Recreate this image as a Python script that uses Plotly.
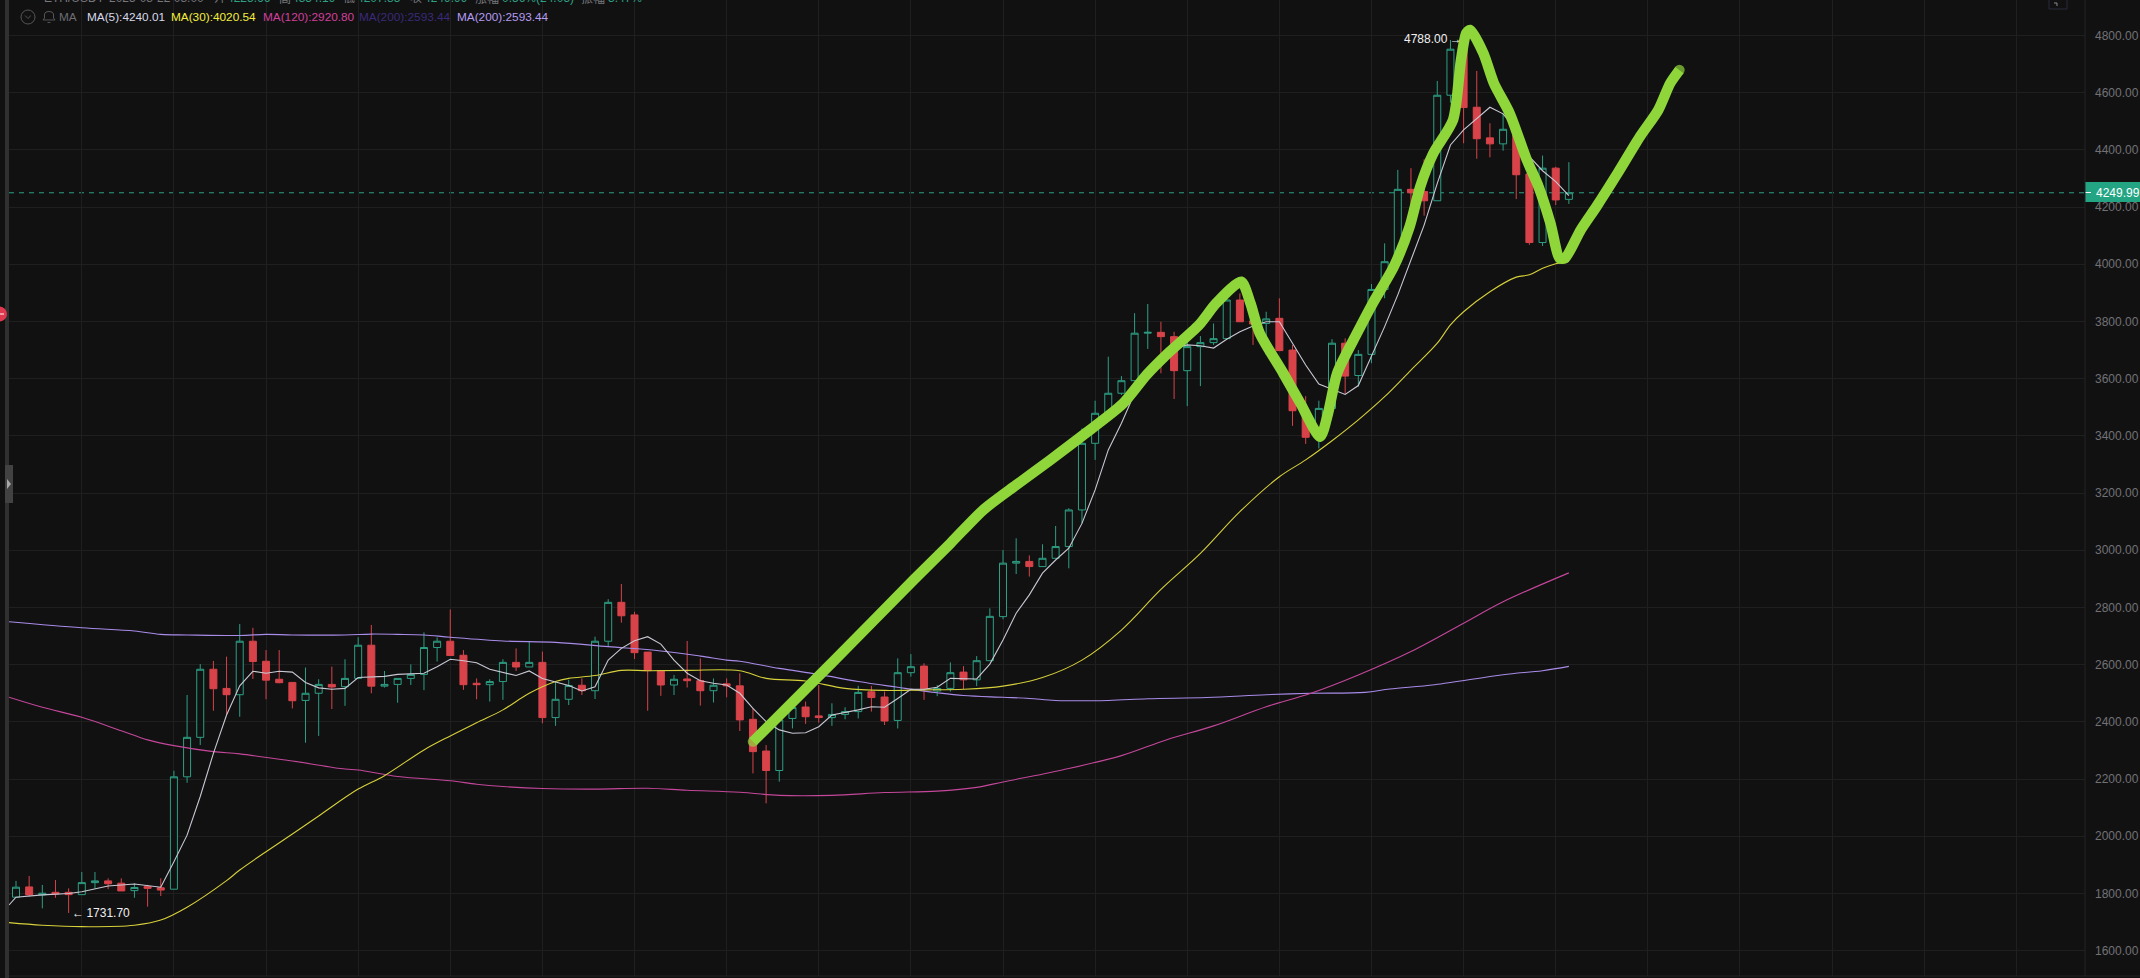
import plotly.graph_objects as go

# candles
candle_open = [1787, 1823, 1795, 1804, 1804, 1796, 1838, 1844, 1836, 1810, 1824, 1820, 1815, 2208, 2346, 2584, 2517, 2495, 2682, 2612,
               2549, 2538, 2475, 2500, 2531, 2523, 2552, 2668, 2525, 2531, 2552, 2566, 2660, 2682, 2633, 2535, 2530, 2541, 2608, 2592,
               2608, 2415, 2479, 2528, 2509, 2682, 2818, 2774, 2644, 2579, 2529, 2550, 2544, 2509, 2533, 2526, 2409, 2298, 2230, 2412,
               2452, 2421, 2415, 2426, 2436, 2505, 2487, 2405, 2572, 2595, 2508, 2517, 2574, 2547, 2614, 2768, 2955, 2961, 2943, 2972,
               3013, 3141, 3374, 3479, 3549, 3593, 3759, 3762, 3747, 3628, 3712, 3726, 3740, 3875, 3802, 3793, 3811, 3700, 3490, 3395,
               3496, 3724, 3611, 3685, 3912, 4009, 4262, 4254, 4222, 4591, 4752, 4549, 4442, 4421, 4452, 4316, 4076, 4336, 4227]
candle_high = [1844, 1861, 1830, 1847, 1818, 1875, 1875, 1853, 1853, 1835, 1830, 1853, 2229, 2494, 2602, 2613, 2628, 2742, 2729, 2651,
               2651, 2538, 2590, 2549, 2593, 2619, 2696, 2739, 2578, 2552, 2601, 2713, 2695, 2793, 2651, 2552, 2549, 2619, 2657, 2683,
               2646, 2541, 2547, 2552, 2698, 2829, 2882, 2785, 2644, 2579, 2564, 2683, 2622, 2552, 2552, 2570, 2447, 2319, 2407, 2450,
               2471, 2529, 2465, 2451, 2526, 2526, 2506, 2622, 2637, 2605, 2529, 2608, 2595, 2630, 2797, 3001, 3042, 2982, 3021, 3085,
               3147, 3426, 3523, 3677, 3609, 3829, 3861, 3799, 3764, 3770, 3749, 3793, 3890, 3898, 3830, 3834, 3881, 3718, 3539, 3523,
               3738, 3741, 3700, 3931, 4073, 4330, 4336, 4367, 4641, 4784, 4788, 4676, 4493, 4528, 4493, 4335, 4380, 4341, 4357]
candle_low = [1786, 1789, 1748, 1785, 1732, 1796, 1817, 1815, 1809, 1785, 1754, 1791, 1815, 2187, 2319, 2439, 2424, 2418, 2550, 2479,
              2535, 2447, 2327, 2351, 2445, 2456, 2552, 2500, 2520, 2467, 2529, 2511, 2611, 2632, 2512, 2479, 2471, 2477, 2578, 2592,
              2395, 2386, 2459, 2494, 2480, 2663, 2747, 2620, 2439, 2491, 2494, 2520, 2457, 2468, 2486, 2368, 2220, 2115, 2191, 2377,
              2393, 2397, 2386, 2409, 2412, 2436, 2389, 2377, 2558, 2477, 2490, 2506, 2514, 2525, 2614, 2759, 2917, 2908, 2943, 2972,
              2937, 3094, 3316, 3479, 3543, 3593, 3704, 3619, 3529, 3504, 3574, 3718, 3740, 3799, 3718, 3683, 3698, 3435, 3372, 3356,
              3496, 3545, 3572, 3654, 3881, 4009, 4178, 4170, 4222, 4565, 4423, 4369, 4374, 4397, 4228, 4068, 4064, 4207, 4211]
candle_close = [1822, 1795, 1801, 1798, 1796, 1838, 1844, 1834, 1809, 1821, 1818, 1812, 2208, 2346, 2584, 2516, 2495, 2682, 2611, 2546,
                2537, 2474, 2500, 2531, 2522, 2552, 2668, 2525, 2531, 2552, 2566, 2660, 2682, 2632, 2530, 2530, 2541, 2608, 2592, 2608,
                2415, 2479, 2527, 2509, 2682, 2818, 2771, 2642, 2579, 2529, 2549, 2544, 2509, 2528, 2526, 2407, 2296, 2230, 2407, 2450,
                2418, 2415, 2426, 2436, 2503, 2485, 2403, 2572, 2593, 2516, 2517, 2572, 2547, 2614, 2769, 2955, 2961, 2943, 2972, 3013,
                3141, 3374, 3479, 3549, 3593, 3759, 3762, 3747, 3628, 3712, 3726, 3740, 3875, 3799, 3791, 3809, 3698, 3488, 3395, 3496,
                3724, 3609, 3685, 3912, 4009, 4262, 4250, 4222, 4591, 4752, 4548, 4439, 4421, 4472, 4313, 4076, 4336, 4225, 4250]

ma5_x = [-0.53, 0, 2, 4, 5, 7, 9, 11, 12, 13, 14, 15, 16, 17, 18, 19, 20, 21, 22, 23, 24, 25, 26, 28, 29, 31, 32, 33, 34, 35, 36, 37,
         38, 39, 40, 42, 43, 44, 45, 46, 47, 48, 49, 50, 51, 52, 53, 54, 55, 56, 57, 58, 59, 60, 61, 62, 63, 64, 65, 66, 67, 68, 69,
         70, 71, 72, 73, 74, 75, 76, 77, 78, 79, 80, 81, 82, 83, 84, 85, 87, 88, 89, 90, 91, 92, 93, 94, 95, 96, 97, 98, 99, 100, 101,
         102, 103, 104, 105, 106, 107, 108, 109, 110, 111, 112, 113, 114, 115, 116, 117, 118]
ma5_y = [1760, 1787, 1795, 1800, 1806, 1826, 1833, 1822, 1911, 2004, 2139, 2290, 2424, 2526, 2577, 2570, 2577, 2574, 2538, 2519, 2514,
         2517, 2555, 2559, 2566, 2570, 2593, 2619, 2614, 2607, 2584, 2572, 2562, 2578, 2552, 2527, 2508, 2523, 2616, 2657, 2684, 2698,
         2672, 2616, 2570, 2544, 2535, 2529, 2500, 2447, 2401, 2372, 2360, 2362, 2383, 2424, 2432, 2442, 2453, 2451, 2482, 2514, 2514,
         2521, 2552, 2550, 2550, 2602, 2686, 2780, 2844, 2920, 2966, 3007, 3094, 3211, 3351, 3444, 3549, 3665, 3706, 3718, 3715, 3707,
         3738, 3764, 3784, 3799, 3799, 3724, 3648, 3581, 3563, 3545, 3576, 3677, 3782, 3893, 4015, 4137, 4283, 4417, 4470, 4510, 4549,
         4526, 4470, 4376, 4327, 4289, 4240]

ma30_x = [-0.53, 2, 5, 9, 11, 13, 16, 17, 19, 21, 23, 26, 28, 31, 33, 35, 37, 39, 41, 42, 44, 46, 48, 51, 55, 57, 60, 63, 66, 69, 72,
          75, 78, 81, 84, 87, 90, 93, 96, 98, 100, 102, 104, 106, 108, 109, 110, 112, 114, 115, 116, 117, 118]
ma30_y = [1698, 1689, 1684, 1689, 1707, 1752, 1845, 1882, 1946, 2008, 2071, 2165, 2212, 2302, 2351, 2397, 2442, 2500, 2541, 2552, 2562,
          2580, 2579, 2580, 2579, 2552, 2543, 2517, 2510, 2512, 2514, 2525, 2555, 2616, 2721, 2863, 2989, 3135, 3257, 3316, 3383, 3456,
          3537, 3630, 3724, 3788, 3834, 3904, 3955, 3963, 3986, 4002, 4010]

ma120_x = [-0.53, 2, 5, 8, 10, 12, 15, 17, 21, 25, 26, 29, 33, 35, 37, 40, 44, 48, 51, 55, 58, 62, 66, 70, 73, 75, 79.5, 84, 87.4, 91,
           95, 98.4, 102, 106, 110, 113, 118]
ma120_y = [2486, 2451, 2416, 2369, 2337, 2317, 2296, 2288, 2263, 2235, 2232, 2209, 2194, 2182, 2174, 2167, 2165, 2168, 2161, 2154, 2143,
           2143, 2153, 2158, 2171, 2190, 2232, 2282, 2337, 2386, 2453, 2500, 2564, 2646, 2745, 2820, 2921]

ma200_x = [-0.53, 5, 9, 11, 13, 17, 19, 21, 25, 27, 29, 31, 33, 37, 41, 45, 49, 52, 54, 55, 58, 61, 64, 67, 70, 72, 75, 77, 79, 83, 86,
           90.5, 95, 98.4, 102.5, 104.4, 107.8, 113, 116, 118]
ma200_y = [2750, 2729, 2718, 2706, 2704, 2702, 2706, 2704, 2704, 2707, 2706, 2704, 2696, 2683, 2678, 2663, 2648, 2630, 2616, 2612, 2587,
           2566, 2541, 2521, 2502, 2492, 2486, 2482, 2475, 2475, 2481, 2485, 2495, 2500, 2503, 2515, 2530, 2565, 2579, 2594]

# hand drawn marker stroke on top of the chart
stroke_x = [56, 62.1, 68.2, 71, 73.5, 76, 78.6, 81.1, 84.1, 85.9, 87.4, 89.9, 91.2, 93.1, 93.8, 94.5, 96.3, 97.6, 99.1, 99.7, 100.4,
            101.9, 103.1, 104.7, 105.9, 106.7, 107.7, 109.2, 109.8, 110.2, 110.5, 111.5, 112.3, 113.5, 114.8, 115.7, 116.6, 117.3,
            117.7, 118.9, 120.1, 121.7, 123.4, 124.8, 125.7, 126.4]
stroke_y = [2331, 2611, 2896, 3024, 3141, 3228, 3316, 3403, 3512, 3613, 3683, 3788, 3864, 3939, 3864, 3759, 3619, 3514, 3397, 3479, 3620,
            3759, 3864, 3992, 4132, 4271, 4388, 4505, 4714, 4808, 4819, 4738, 4633, 4528, 4365, 4271, 4143, 4021, 4021, 4120, 4202, 4318,
            4446, 4540, 4633, 4679]

y_ticks = [1600, 1800, 2000, 2200, 2400, 2600, 2800, 3000, 3200, 3400, 3600, 3800, 4000, 4200, 4400, 4600, 4800]
x_grid = [5, 12, 19, 26, 33, 40, 47, 54, 61, 68, 75, 82, 89, 96, 103, 110, 117, 124, 131, 138, 145, 152]
last_price = 4249.99

header_labels = [("ETH/USDT", 42, "#77777c"), ("2025-08-22 08:00", 107, "#77777c"), ("开", 212, "#77777c"), ("4225.66", 225, "#2fa084"),
                 ("高", 277, "#77777c"), ("4354.19", 290, "#2fa084"), ("低", 341, "#77777c"), ("4207.85", 355, "#2fa084"),
                 ("收", 408, "#77777c"), ("4249.99", 422, "#2fa084"), ("涨幅", 473, "#77777c"), ("0.56%(24.05)", 500, "#2fa084"),
                 ("振幅", 579, "#77777c"), ("3.47%", 606, "#2fa084")]
ma_labels = [("MA", 57, "#6d6d72"), ("MA(5):4240.01", 85, "#d8d8e8"), ("MA(30):4020.54", 169, "#f2ee3c"),
             ("MA(120):2920.80", 261, "#d2409a"), ("MA(200):2593.44", 357, "#3a2a78"), ("MA(200):2593.44", 455, "#b49cf0")]

BG = "#111112"
GRID = "#1f1f20"
GREEN = "#2d9f83"
RED = "#d8434a"
STROKE = "#8fd63a"
FONT = "Liberation Sans, Arial, sans-serif"
L, R, B = 9, 2085, 976


def px(x):
    return (x - L) / (R - L)


def py(y):
    return (B - y) / B


def path(*pts, close=False):
    s = "M " + " L ".join("%.5f %.5f" % (px(x), py(y)) for x, y in pts)
    return s + (" Z" if close else "")


def paper_shape(**kw):
    return dict(xref="paper", yref="paper", layer="above", **kw)


def box(x0, y0, x1, y1, **kw):
    return paper_shape(x0=px(x0), x1=px(x1), y0=py(y0), y1=py(y1), **kw)


fig = go.Figure()
fig.add_trace(go.Candlestick(x=list(range(len(candle_open))), open=candle_open, high=candle_high, low=candle_low, close=candle_close,
                             increasing=dict(line=dict(color=GREEN, width=1), fillcolor=BG),
                             decreasing=dict(line=dict(color=RED, width=1), fillcolor=RED),
                             showlegend=False, hoverinfo="skip"))
for xs, ys, c, shape in [(ma200_x, ma200_y, "#a98be8", "spline"), (ma120_x, ma120_y, "#c4479a", "spline"),
                         (ma30_x, ma30_y, "#d6d03a", "spline"), (ma5_x, ma5_y, "#c8c8d4", "linear")]:
    fig.add_trace(go.Scatter(x=xs, y=ys, mode="lines", line=dict(color=c, width=1.1, shape=shape), showlegend=False, hoverinfo="skip"))
fig.add_trace(go.Scatter(x=stroke_x, y=stroke_y, mode="lines+markers",
                         line=dict(color=STROKE, width=10.5, shape="spline", smoothing=0.7),
                         marker=dict(color=STROKE, size=[10.5] + [0] * (len(stroke_x) - 2) + [10.5], line=dict(width=0)),
                         showlegend=False, hoverinfo="skip"))

annotations = []
for text, x, c in header_labels:
    annotations.append(dict(text=text, xref="paper", yref="paper", x=px(x), y=py(-2), xanchor="left", yanchor="middle", showarrow=False,
                            font=dict(family="Liberation Sans, Noto Sans CJK SC, sans-serif", size=12, color=c)))
for text, x, c in ma_labels:
    annotations.append(dict(text=text, xref="paper", yref="paper", x=px(x), y=py(17), xanchor="left", yanchor="middle", showarrow=False,
                            font=dict(family=FONT, size=11.8, color=c)))
annotations.append(dict(text="←\u20091731.70", x=4, y=min(candle_low), xanchor="left", yanchor="middle", xshift=1, showarrow=False,
                        font=dict(family=FONT, size=12, color="#f0f0f0")))
annotations.append(dict(text="4788.00\u2009→", x=110, y=max(candle_high), xanchor="right", yanchor="middle", xshift=0, showarrow=False,
                        font=dict(family=FONT, size=12, color="#f0f0f0")))
annotations.append(dict(text="%.2f" % last_price, xref="paper", yref="y", x=px(2094), y=last_price, xanchor="left", yanchor="middle",
                        showarrow=False, font=dict(family=FONT, size=12, color="#ffffff")))

shapes = [
    # last price line and tag
    dict(type="line", xref="paper", yref="y", x0=0, x1=1, y0=last_price, y1=last_price, layer="below",
         line=dict(color=GREEN, width=1, dash="5px,5px")),
    box(R, 182, 2140, 202, type="rect", fillcolor="#23a584", line=dict(width=0)),
    box(R, 192.5, 2091, 192.5, type="line", line=dict(color="#ffffff", width=1)),
    # right and bottom frame
    box(R, 0, R, B, type="line", line=dict(color="#242425", width=1)),
    box(L, B, 2140, B, type="line", line=dict(color="#242425", width=1)),
    # left strip
    box(5, 0, 9, 978, type="rect", fillcolor="#303031", line=dict(width=0)),
    box(5, 465, 13, 503, type="rect", fillcolor="#424243", line=dict(width=0)),
    paper_shape(type="path", path=path((7, 479), (11, 484), (7, 489), close=True), fillcolor="#a8a8a8", line=dict(width=0)),
    box(-8, 306.5, 7, 321.5, type="circle", fillcolor="#e0394f", line=dict(width=0)),
    box(0, 314, 4, 314, type="line", line=dict(color="#ffffff", width=1)),
    # top right icon
    box(2049, -2, 2067, 9, type="rect", fillcolor="rgba(0,0,0,0)", line=dict(color="#2a2a3c", width=1)),
    paper_shape(type="path", path=path((2054, 3), (2057, 3), (2057, 6)), line=dict(color="#8a8a90", width=1)),
    # legend row icons
    box(21, 10, 35, 24, type="circle", line=dict(color="#55555a", width=1)),
    paper_shape(type="path", path=path((25, 15.5), (28, 18.5), (31, 15.5)), line=dict(color="#55555a", width=1)),
    paper_shape(type="path", path=path((43, 20), (44.5, 18), (44.5, 14), (46, 12), (49, 11.5), (52, 12), (53.5, 14), (53.5, 18), (55, 20), close=True),
                line=dict(color="#55555a", width=1)),
    paper_shape(type="path", path=path((47.5, 22.5), (50.5, 22.5)), line=dict(color="#55555a", width=1)),
]

fig.update_layout(
    width=2140, height=978,
    margin=dict(l=L, r=2140 - R, t=0, b=978 - B, pad=0),
    paper_bgcolor=BG, plot_bgcolor=BG,
    showlegend=False,
    boxgap=0.24,
    annotations=annotations,
    shapes=shapes,
    xaxis=dict(range=[(L - 16) / 13.16, (R - 16) / 13.16], rangeslider=dict(visible=False), tickmode="array", tickvals=x_grid,
               showticklabels=False, ticks="", showgrid=True, gridcolor=GRID, gridwidth=1, zeroline=False),
    yaxis=dict(range=[1511.5, 4924], side="right", tickmode="array", tickvals=y_ticks, tickformat=".2f", ticks="", ticklabelstandoff=9,
               tickfont=dict(family=FONT, size=12, color="#717176"), showgrid=True, gridcolor=GRID, gridwidth=1, zeroline=False),
)

fig.write_html("out.html", config=dict(displayModeBar=False),
               post_script="document.body.style.margin='0';document.body.style.background='%s';document.body.style.overflow='hidden';" % BG)
